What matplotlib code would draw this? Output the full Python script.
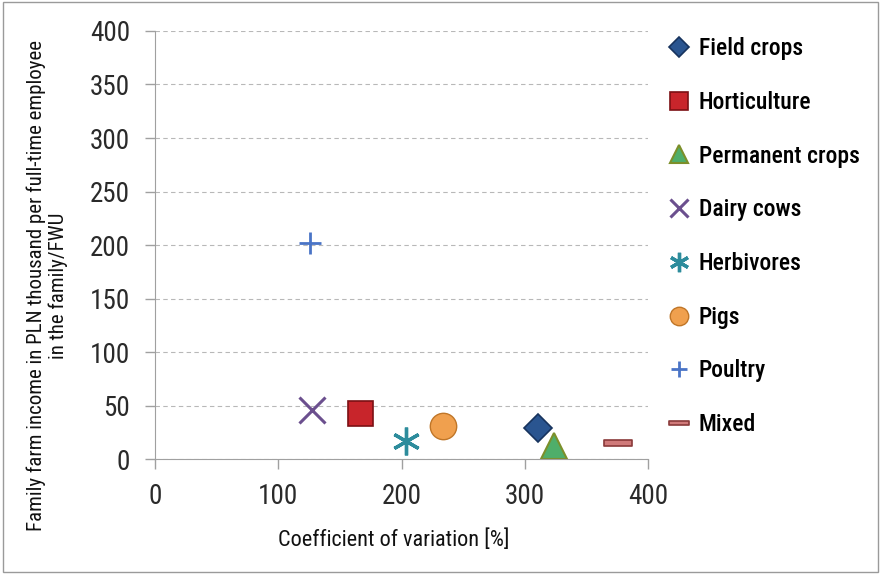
import matplotlib
matplotlib.use("Agg")
import matplotlib.pyplot as plt
from matplotlib.patches import Rectangle
from matplotlib.path import Path

plt.rcParams["font.family"] = ["Roboto Condensed", "Liberation Sans", "DejaVu Sans"]

# farm types, in legend order
categories = ["Field crops", "Horticulture", "Permanent crops", "Dairy cows",
              "Herbivores", "Pigs", "Poultry", "Mixed"]
# coefficient of variation [%]
cv = [311, 166, 324, 127, 204, 234, 126, 376]
# family farm income, PLN thousand per FWU
income = [29, 43, 12, 46, 17, 31, 202, 15]

x_ticks = [0, 100, 200, 300, 400]
y_ticks = [0, 50, 100, 150, 200, 250, 300, 350, 400]

bar_marker = Path([(-1, -0.25), (1, -0.25), (1, 0.25), (-1, 0.25), (-1, -0.25)],
                  [Path.MOVETO, Path.LINETO, Path.LINETO, Path.LINETO, Path.CLOSEPOLY])

styles = [
    dict(marker="D", ms=14, mfc="#2a5590", mec="#17335e", mew=1.2),
    dict(marker="s", ms=18, mfc="#c8252b", mec="#7c1014", mew=1.2),
    dict(marker="^", ms=19, mfc="#4fae6a", mec="#7c8f2a", mew=1.5),
    dict(marker="x", ms=19, mfc="none", mec="#6b4f8e", mew=2.2),
    dict(marker=(6, 2, 0), ms=20, mfc="none", mec="#2d8c9c", mew=2.4),
    dict(marker="o", ms=19, mfc="#f0a04e", mec="#c07628", mew=1.0),
    dict(marker="+", ms=16, mfc="none", mec="#4a74c6", mew=2.0),
    dict(marker=bar_marker, ms=20, mfc="#d07a7a", mec="#8a3a3a", mew=1.2),
]

fig = plt.figure(figsize=(8.81, 5.74), dpi=100)
ax = fig.add_axes([0.176, 0.2003, 0.5595, 0.7457])

for name, x, y, st in zip(categories, cv, income, styles):
    ax.plot([x], [y], linestyle="none", label=name, **st)

ax.set_xlim(0, 400)
ax.set_ylim(0, 400)
ax.set_xticks(x_ticks)
ax.set_yticks(y_ticks)
ax.tick_params(axis="both", labelsize=19.5, colors="#a0a0a0", labelcolor="#2a2a2a",
               length=7, width=1)
ax.tick_params(axis="x", pad=10)
ax.tick_params(axis="y", pad=11)
ax.yaxis.grid(True, linestyle=(0, (4, 3)), color="#b8b8b8", linewidth=0.8)
ax.set_axisbelow(True)
for side in ["top", "right"]:
    ax.spines[side].set_visible(False)
for side in ["left", "bottom"]:
    ax.spines[side].set_color("#a0a0a0")

ax.set_xlabel("Coefficient of variation [%]", fontsize=16, color="#111111")
ax.xaxis.set_label_coords(0.485, -0.165)
ax.set_ylabel("Family farm income in PLN thousand per full-time employee\nin the family/FWU",
              fontsize=15, color="#111111", linespacing=1.2)
ax.yaxis.set_label_coords(-0.176, 0.405)

leg = ax.legend(loc="upper left", bbox_to_anchor=(0.733, 0.972),
                bbox_transform=fig.transFigure, frameon=False,
                prop={"size": 17, "weight": "medium"},
                markerscale=0.7, labelspacing=1.3, handlelength=1.0,
                handletextpad=0.35)

fig.patches.append(Rectangle((0.003, 0.004), 0.994, 0.992, transform=fig.transFigure,
                             fill=False, edgecolor="#9a9a9a", linewidth=1.0))

fig.savefig("out.png", dpi=100)
